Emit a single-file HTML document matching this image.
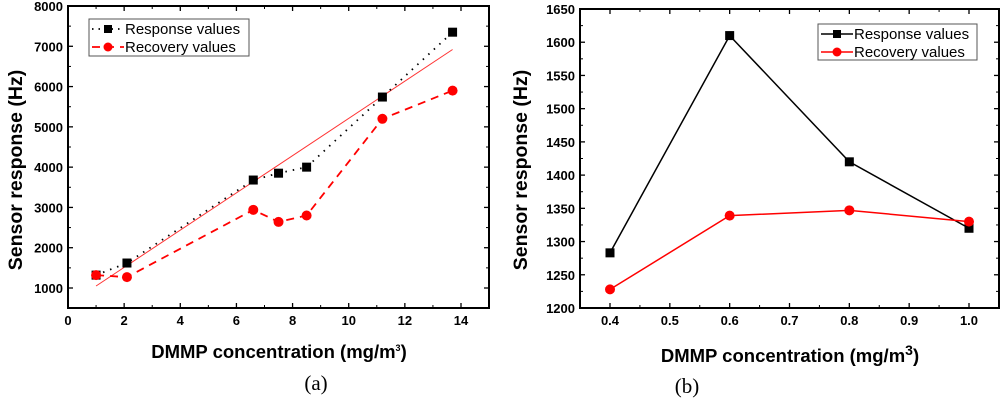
<!DOCTYPE html>
<html><head><meta charset="utf-8">
<style>
html,body{margin:0;padding:0;background:#fff;}
svg{display:block;font-family:"Liberation Sans",Arial,sans-serif;}
</style></head>
<body>
<svg id="fig" width="1000" height="404" viewBox="0 0 1000 404" xmlns="http://www.w3.org/2000/svg"></svg>
<script>
// Chart (a) data
const aX = [1, 2.1, 6.6, 7.5, 8.5, 11.2, 13.7];
const aResponse = [1320, 1620, 3680, 3850, 4000, 5740, 7350];
const aRecovery = [1320, 1270, 2940, 2640, 2800, 5200, 5900];
const aFitX = [1, 13.7];
const aFitY = [1050, 6920];
const aXTicks = [0, 2, 4, 6, 8, 10, 12, 14];
const aYTicks = [1000, 2000, 3000, 4000, 5000, 6000, 7000, 8000];
// Chart (b) data
const bX = [0.4, 0.6, 0.8, 1.0];
const bResponse = [1283, 1610, 1420, 1320];
const bRecovery = [1228, 1339, 1347, 1330];
const bXTicks = ['0.4', '0.5', '0.6', '0.7', '0.8', '0.9', '1.0'];
const bYTicks = [1200, 1250, 1300, 1350, 1400, 1450, 1500, 1550, 1600, 1650];

const NS = 'http://www.w3.org/2000/svg';
const svg = document.getElementById('fig');
function mk(tag, attrs, parent) {
  const e = document.createElementNS(NS, tag);
  for (const k in attrs) e.setAttribute(k, attrs[k]);
  (parent || svg).appendChild(e);
  return e;
}
function txt(s, attrs, parent) { const e = mk('text', attrs, parent); e.textContent = s; return e; }

function axes(g, box, sx, sy, xt, xlabels, yt, xminor, yminor) {
  const r = mk('rect', {x: box.l, y: box.t, width: box.r - box.l, height: box.b - box.t, fill: 'none', stroke: '#000', 'stroke-width': 2}, g);
  
  
  xt.forEach((v, i) => {
    const x = sx(+v);
    mk('line', {x1: x, x2: x, y1: box.b, y2: box.b - 5, stroke: '#000', 'stroke-width': 1.3}, g);
    mk('line', {x1: x, x2: x, y1: box.t, y2: box.t + 5, stroke: '#000', 'stroke-width': 1.3}, g);
    const t = txt(xlabels[i], {x: x, y: box.b + 17, 'font-size': 13, 'font-weight': 'bold', 'text-anchor': 'middle'}, g);
    
    
  });
  xminor.forEach(v => {
    const x = sx(v);
    mk('line', {x1: x, x2: x, y1: box.b, y2: box.b - 3, stroke: '#000', 'stroke-width': 1}, g);
    mk('line', {x1: x, x2: x, y1: box.t, y2: box.t + 3, stroke: '#000', 'stroke-width': 1}, g);
  });
  yt.forEach(v => {
    const y = sy(v);
    mk('line', {x1: box.l, x2: box.l + 5, y1: y, y2: y, stroke: '#000', 'stroke-width': 1.3}, g);
    mk('line', {x1: box.r, x2: box.r - 5, y1: y, y2: y, stroke: '#000', 'stroke-width': 1.3}, g);
    const t = txt(String(v), {x: box.l - 5, y: y + 5, 'font-size': 13, 'font-weight': 'bold', 'text-anchor': 'end'}, g);
    
    
  });
  yminor.forEach(v => {
    const y = sy(v);
    mk('line', {x1: box.l, x2: box.l + 3, y1: y, y2: y, stroke: '#000', 'stroke-width': 1}, g);
    mk('line', {x1: box.r, x2: box.r - 3, y1: y, y2: y, stroke: '#000', 'stroke-width': 1}, g);
  });
}
function series(g, xs, ys, sx, sy, color, dash, marker, name, width) {
  const pts = xs.map((x, i) => sx(x) + ',' + sy(ys[i])).join(' ');
  const pl = mk('polyline', {points: pts, fill: 'none', stroke: color, 'stroke-width': width, 'stroke-dasharray': dash}, g);
  
  
  xs.forEach((x, i) => {
    let m;
    if (marker === 'sq') m = mk('rect', {x: sx(x) - 4.5, y: sy(ys[i]) - 4.5, width: 9, height: 9, fill: color}, g);
    else m = mk('circle', {cx: sx(x), cy: sy(ys[i]), r: 5, fill: color}, g);
    
    
  });
}
function legend(g, x, y, w, h, items) {
  const r = mk('rect', {x: x, y: y, width: w, height: h, fill: '#fff', stroke: '#555', 'stroke-width': 1}, g);
  
  
  items.forEach((it, i) => {
    const cy = y + 10 + i * 18;
    const gg = mk('g', {}, g);
    
    
    mk('line', {x1: x + 3, x2: x + 35, y1: cy, y2: cy, stroke: it.color, 'stroke-width': it.w, 'stroke-dasharray': it.dash}, gg);
    if (it.marker === 'sq') mk('rect', {x: x + 15, y: cy - 4, width: 8, height: 8, fill: it.color}, gg);
    else mk('circle', {cx: x + 19, cy: cy, r: 4.5, fill: it.color}, gg);
    txt(it.label, {x: x + 36, y: cy + 5, 'font-size': 15}, gg);
  });
}

// ---- Chart (a)
const ga = mk('g', {});  
const boxA = {l: 68, r: 489, t: 6, b: 308};
const sxA = v => 68 + v * (393 / 14);
const syA = v => 288 - (v - 1000) * (282 / 7000);
const aXMinor = [1, 3, 5, 7, 9, 11, 13];
const aYMinor = [1500, 2500, 3500, 4500, 5500, 6500, 7500];
axes(ga, boxA, sxA, syA, aXTicks, aXTicks.map(String), aYTicks, aXMinor, aYMinor);
const fit = mk('line', {x1: sxA(aFitX[0]), y1: syA(aFitY[0]), x2: sxA(aFitX[1]), y2: syA(aFitY[1]), stroke: '#f33', 'stroke-width': 1}, ga);


series(ga, aX, aResponse, sxA, syA, '#000', '1.5 6', 'sq', 'response', 1.8);
series(ga, aX, aRecovery, sxA, syA, '#f00', '8 6', 'ci', 'recovery', 1.8);
legend(ga, 89, 19, 160, 37, [
  {label: 'Response values', color: '#000', dash: '1.5 5', marker: 'sq', w: 1.8},
  {label: 'Recovery values', color: '#f00', dash: '8 6', marker: 'ci', w: 1.8}]);
let t = txt('Sensor response (Hz)', {x: 0, y: 0, 'font-size': 19.5, 'font-weight': 'bold', 'text-anchor': 'middle', transform: 'translate(22,170) rotate(-90)'}, ga);
 
t = mk('text', {x: 279, y: 358, 'font-size': 18.5, 'font-weight': 'bold', 'text-anchor': 'middle'}, ga);
t.innerHTML = 'DMMP concentration (mg/m<tspan dy="-7" font-size="9">3</tspan><tspan dy="7">)</tspan>';
 
t = txt('(a)', {x: 316, y: 390, 'font-size': 21, 'font-family': '"Liberation Serif",serif', 'text-anchor': 'middle'}, ga);
 

// ---- Chart (b)
const gb = mk('g', {});  
const boxB = {l: 580, r: 999, t: 9, b: 308};
const sxB = v => 610 + (v - 0.4) * (359 / 0.6);
const syB = v => 308 - (v - 1200) * (299 / 450);
const bXMinor = [0.45, 0.55, 0.65, 0.75, 0.85, 0.95];
const bYMinor = [1225, 1275, 1325, 1375, 1425, 1475, 1525, 1575, 1625];
axes(gb, boxB, sxB, syB, bXTicks, bXTicks, bYTicks, bXMinor, bYMinor);
series(gb, bX, bResponse, sxB, syB, '#000', 'none', 'sq', 'response-b', 1.5);
series(gb, bX, bRecovery, sxB, syB, '#f00', 'none', 'ci', 'recovery-b', 1.5);
legend(gb, 818, 24, 159, 36, [
  {label: 'Response values', color: '#000', dash: 'none', marker: 'sq', w: 1.5},
  {label: 'Recovery values', color: '#f00', dash: 'none', marker: 'ci', w: 1.5}]);
t = txt('Sensor response (Hz)', {x: 0, y: 0, 'font-size': 19.5, 'font-weight': 'bold', 'text-anchor': 'middle', transform: 'translate(527,170) rotate(-90)'}, gb);
 
t = mk('text', {x: 790, y: 362, 'font-size': 18.5, 'font-weight': 'bold', 'text-anchor': 'middle'}, gb);
t.innerHTML = 'DMMP concentration (mg/m<tspan dy="-7" font-size="14">3</tspan><tspan dy="7">)</tspan>';
 
t = txt('(b)', {x: 687, y: 393, 'font-size': 21, 'font-family': '"Liberation Serif",serif', 'text-anchor': 'middle'}, gb);
 
</script>
</body></html>
